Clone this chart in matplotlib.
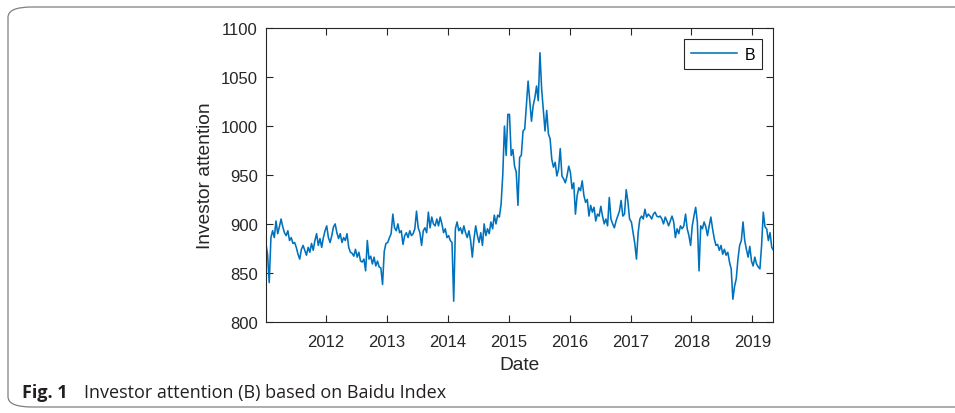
import numpy as np
import pandas as pd
import matplotlib
matplotlib.use("Agg")
import matplotlib.pyplot as plt
import matplotlib.dates as mdates
from matplotlib.patches import FancyBboxPatch

# Investor attention (Baidu Index), sampled roughly every 10 days per year
att_2011 = [880, 869, 840, 886, 893, 886, 903, 890, 897, 905, 897, 891,
            888, 893, 883, 886, 880, 881, 876, 869, 864, 874, 878, 873,
            868, 876, 871, 880, 873, 883, 890, 878, 885, 876, 886, 893]
att_2012 = [898, 886, 881, 888, 897, 900, 891, 885, 890, 881, 886, 883,
            890, 876, 871, 870, 867, 874, 866, 871, 862, 861, 864, 852,
            883, 864, 867, 859, 866, 857, 862, 856, 855, 838, 872, 880]
att_2013 = [881, 886, 890, 910, 896, 893, 900, 891, 893, 879, 888, 891,
            886, 893, 888, 890, 895, 913, 896, 891, 878, 893, 896, 891,
            912, 896, 907, 900, 898, 905, 898, 907, 900, 891, 895, 886]
att_2014 = [888, 883, 881, 821, 895, 902, 893, 896, 890, 898, 891, 886,
            893, 883, 866, 885, 898, 888, 881, 891, 878, 900, 888, 895,
            890, 902, 895, 909, 900, 909, 907, 920, 950, 1000, 970, 1012]
att_2015 = [1012, 970, 976, 959, 953, 919, 968, 970, 995, 997, 1021, 1046,
            1026, 1005, 1021, 1029, 1041, 1026, 1075, 1038, 1017, 995, 1016, 992,
            987, 966, 958, 963, 949, 956, 977, 949, 946, 942, 949, 959]
att_2016 = [953, 936, 942, 910, 929, 937, 934, 944, 929, 922, 925, 908,
            919, 912, 917, 903, 910, 908, 918, 908, 900, 905, 898, 927,
            905, 900, 896, 903, 908, 913, 924, 908, 910, 935, 923, 905]
att_2017 = [902, 891, 880, 864, 891, 905, 908, 905, 915, 907, 910, 908,
            905, 910, 912, 908, 907, 908, 905, 900, 907, 903, 898, 903,
            908, 902, 886, 895, 890, 898, 895, 898, 910, 895, 888, 878]
att_2018 = [898, 908, 917, 902, 852, 898, 895, 902, 897, 888, 898, 907,
            895, 885, 878, 879, 873, 878, 869, 874, 868, 871, 861, 854,
            823, 836, 844, 864, 878, 883, 902, 883, 874, 866, 877, 862]
att_2019 = [857, 866, 859, 856, 854, 878, 912, 897, 895, 883, 891, 876,
            873, 881]

yearly = {2011: att_2011, 2012: att_2012, 2013: att_2013, 2014: att_2014,
          2015: att_2015, 2016: att_2016, 2017: att_2017, 2018: att_2018,
          2019: att_2019}

dates, values = [], []
for yr, vals in yearly.items():
    start = pd.Timestamp(f"{yr}-01-01")
    offs = (np.arange(len(vals)) + 0.5) * 365.25 / 36
    dates.extend(start + pd.to_timedelta(offs, unit="D"))
    values.extend(vals)

W, H = 955, 414
fig = plt.figure(figsize=(W / 100, H / 100), dpi=100)
fig.patch.set_facecolor("white")

# rounded panel frame (open to the right edge)
frame = FancyBboxPatch((8 / W, 6 / H), (1010 - 8) / W, (406 - 6) / H,
                       boxstyle="round,pad=0,rounding_size=0.025",
                       transform=fig.transFigure, facecolor="none",
                       edgecolor="#7f7f7f", linewidth=0.9, clip_on=False)
fig.patches.append(frame)

left, right, top, bottom = 266, 773.3, 29.3, 322.7
ax = fig.add_axes([left / W, 1 - bottom / H, (right - left) / W, (bottom - top) / H])
ax.plot(dates, values, color="#0072BD", lw=1.15, label="B")

ax.set_xlim(pd.Timestamp("2011-01-07"), pd.Timestamp("2019-05-07"))
ax.set_ylim(800, 1100)
ax.set_yticks(np.arange(800, 1101, 50))
ax.xaxis.set_major_locator(mdates.YearLocator())
ax.xaxis.set_major_formatter(mdates.DateFormatter("%Y"))

axis_col = "#262626"
ax.tick_params(direction="in", top=True, right=True, length=5, width=0.8,
               colors=axis_col, labelsize=12)
ax.tick_params(axis="x", pad=9)
ax.tick_params(axis="y", pad=6)
for lab in ax.get_xticklabels() + ax.get_yticklabels():
    lab.set_family("Liberation Sans")
for s in ax.spines.values():
    s.set_color(axis_col)
    s.set_linewidth(0.8)

ax.set_xlabel("Date", fontsize=13.8, family="Liberation Sans", color=axis_col, labelpad=5)
ax.set_ylabel("Investor attention", fontsize=13.8, family="Liberation Sans",
              color=axis_col, labelpad=5)

leg = ax.legend(loc="upper right", bbox_to_anchor=(1, 1), borderaxespad=0.7,
                fancybox=False, edgecolor=axis_col, framealpha=1,
                prop={"family": "Liberation Sans", "size": 11.5},
                handlelength=2.9, handletextpad=0.45, borderpad=0.45)
leg.get_frame().set_linewidth(0.8)

fig.text(22 / W, 1 - 393 / H, "Fig. 1", family="Open Sans", weight="bold",
         fontsize=13, va="center", ha="left", color="#231f20")
fig.text(84 / W, 1 - 393 / H, "Investor attention (B) based on Baidu Index",
         family="Open Sans", fontsize=13, va="center", ha="left", color="#231f20")

fig.savefig("out.png", dpi=100)
